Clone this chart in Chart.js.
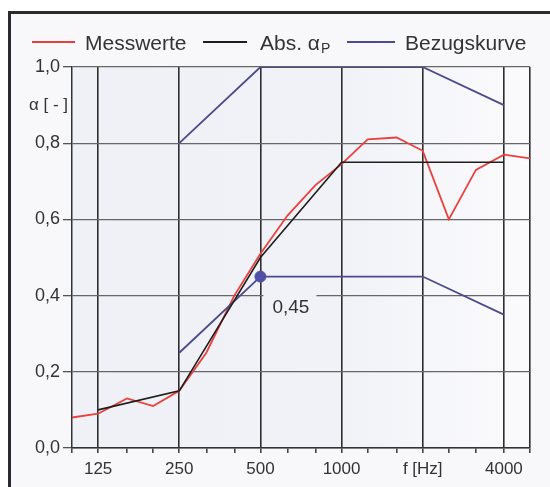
<!DOCTYPE html>
<html>
<head>
<meta charset="utf-8">
<script src="https://cdn.jsdelivr.net/npm/chart.js@4.4.1/dist/chart.umd.min.js"></script>
<style>
  body { margin: 0; background: #fff; }
  #chart { display: block; }
</style>
</head>
<body>
<canvas id="chart" width="550" height="487"></canvas>
<script>
// third-octave bands and measured values (Messwerte)
const thirdOctaves = [100, 125, 160, 200, 250, 315, 400, 500, 630, 800, 1000, 1250, 1600, 2000, 2500, 3150, 4000, 5000];
const messwerte = [0.08, 0.09, 0.13, 0.11, 0.15, 0.25, 0.40, 0.51, 0.61, 0.69, 0.745, 0.81, 0.815, 0.78, 0.60, 0.73, 0.77, 0.76];

// octave bands, practical absorption coefficient
const octaves = [125, 250, 500, 1000, 2000, 4000];
const absAlphaP = [0.10, 0.15, 0.50, 0.75, 0.75, 0.75];

// reference curve, unshifted and shifted
const refFreqs = [250, 500, 1000, 2000, 4000];
const refCurve = [0.80, 1.00, 1.00, 1.00, 0.90];
const refShifted = [0.25, 0.45, 0.45, 0.45, 0.35];

// weighted value
const alphaW = 0.45;
const alphaWFreq = 500;
const alphaWLabel = "0,45";

// axis labels
const xLabels = { 125: "125", 250: "250", 500: "500", 1000: "1000", 2000: "f [Hz]", 4000: "4000" };
const gridFreqs = [125, 250, 500, 1000, 2000, 4000, 5000];

const FONT = "'Liberation Sans', Arial, sans-serif";
const TEXT = "#333333";
const RED = "#e8413c";
const BLACK = "#1e1e1e";
const BLUE = "#4b4a8c";

const pts = (xs, ys) => xs.map((x, i) => ({ x: x, y: ys[i] }));

const decor = {
  id: "decor",
  beforeDraw(chart) {
    const ctx = chart.ctx;
    const a = chart.chartArea;
    ctx.save();
    ctx.fillStyle = "#ffffff";
    ctx.fillRect(0, 0, chart.width, chart.height);
    ctx.fillStyle = "#f8f8fb";
    ctx.fillRect(11, 14, chart.width - 11, chart.height - 14);
    let g = ctx.createLinearGradient(a.left, 0, a.right, 0);
    g.addColorStop(0, "#f0f1f7");
    g.addColorStop(0.6, "#f1f2f8");
    g.addColorStop(1, "#fbfbfd");
    ctx.fillStyle = g;
    ctx.fillRect(a.left, a.top, a.right - a.left, a.bottom - a.top);
    // frame
    ctx.fillStyle = "#2b2b2b";
    ctx.fillRect(8, 11, 3, chart.height - 11);
    ctx.fillRect(8, 11, chart.width - 8, 3);
    ctx.restore();
  },
  beforeDatasetsDraw(chart) {
    const ctx = chart.ctx;
    const x = chart.scales.x.getPixelForValue(alphaWFreq);
    const y = chart.scales.y.getPixelForValue(alphaW);
    ctx.save();
    ctx.fillStyle = "#f1f2f8";
    ctx.fillRect(x + 3, y + 11, 53, 28);
    ctx.fillStyle = TEXT;
    ctx.font = "19px " + FONT;
    ctx.textBaseline = "alphabetic";
    ctx.fillText(alphaWLabel, x + 12, y + 36);
    ctx.restore();
  },
  afterDraw(chart) {
    const ctx = chart.ctx;
    ctx.save();
    // y axis title
    ctx.fillStyle = TEXT;
    ctx.font = "17px " + FONT;
    ctx.textBaseline = "middle";
    ctx.textAlign = "right";
    ctx.fillText("\u03b1 [ - ]", 68, chart.scales.y.getPixelForValue(0.9));
    // legend
    const ly = 42;
    const line = (x1, x2, c) => {
      ctx.strokeStyle = c;
      ctx.lineWidth = 1.8;
      ctx.beginPath();
      ctx.moveTo(x1, ly);
      ctx.lineTo(x2, ly);
      ctx.stroke();
    };
    ctx.textAlign = "left";
    ctx.textBaseline = "middle";
    ctx.font = "21px " + FONT;
    line(32, 75, RED);
    ctx.fillText("Messwerte", 85, ly + 2);
    line(203, 247, BLACK);
    ctx.fillText("Abs. \u03b1", 260, ly + 2);
    let w = ctx.measureText("Abs. \u03b1").width;
    ctx.font = "14px " + FONT;
    ctx.fillText("P", 260 + w + 1, ly + 7);
    ctx.font = "21px " + FONT;
    line(347, 395, BLUE);
    ctx.fillText("Bezugskurve", 405, ly + 2);
    ctx.restore();
  }
};

new Chart(document.getElementById("chart"), {
  type: "line",
  data: {
    datasets: [
      {
        label: "Messwerte",
        data: pts(thirdOctaves, messwerte),
        borderColor: RED,
        borderWidth: 1.8,
        pointRadius: 0,
        order: 4
      },
      {
        label: "Bezugskurve",
        data: pts(refFreqs, refCurve),
        borderColor: BLUE,
        borderWidth: 1.8,
        pointRadius: 0,
        order: 3
      },
      {
        label: "Bezugskurve verschoben",
        data: pts(refFreqs, refShifted),
        borderColor: BLUE,
        borderWidth: 1.8,
        pointRadius: 0,
        order: 2
      },
      {
        label: "Abs. alpha P",
        data: pts(octaves, absAlphaP),
        borderColor: BLACK,
        borderWidth: 1.6,
        pointRadius: 0,
        order: 1
      },
      {
        label: "alpha w",
        data: [{ x: alphaWFreq, y: alphaW }],
        showLine: false,
        pointRadius: 5.5,
        pointBackgroundColor: "#4f4fa8",
        pointBorderColor: "#4f4fa8",
        order: 0
      }
    ]
  },
  options: {
    responsive: false,
    animation: false,
    layout: { padding: { top: 67, right: 20, left: 0, bottom: 0 } },
    plugins: {
      legend: { display: false },
      tooltip: { enabled: false }
    },
    scales: {
      x: {
        type: "logarithmic",
        min: 100,
        max: 5000,
        afterBuildTicks: (s) => { s.ticks = thirdOctaves.map((v) => ({ value: v })); },
        afterFit: (s) => { s.height = 39; },
        border: { color: "#333", width: 1.5 },
        grid: {
          color: (c) => (c.tick && gridFreqs.includes(c.tick.value) ? "#2e2e2e" : "rgba(0,0,0,0)"),
          lineWidth: 1.6,
          tickColor: "#444",
          tickLength: 5,
          drawTicks: true
        },
        ticks: {
          autoSkip: false,
          maxRotation: 0,
          padding: 6,
          color: TEXT,
          font: { family: FONT, size: 17 },
          callback: (v) => xLabels[v] || ""
        }
      },
      y: {
        min: 0,
        max: 1,
        afterFit: (s) => { s.width = 72; },
        border: { color: "#333", width: 1.5 },
        grid: {
          color: "#666",
          lineWidth: 1.3,
          tickColor: "#555",
          tickLength: 9,
          drawTicks: true
        },
        ticks: {
          stepSize: 0.2,
          padding: 3,
          color: TEXT,
          font: { family: FONT, size: 18 },
          callback: (v) => v.toFixed(1).replace(".", ",")
        }
      }
    }
  },
  plugins: [decor]
});
</script>
</body>
</html>
